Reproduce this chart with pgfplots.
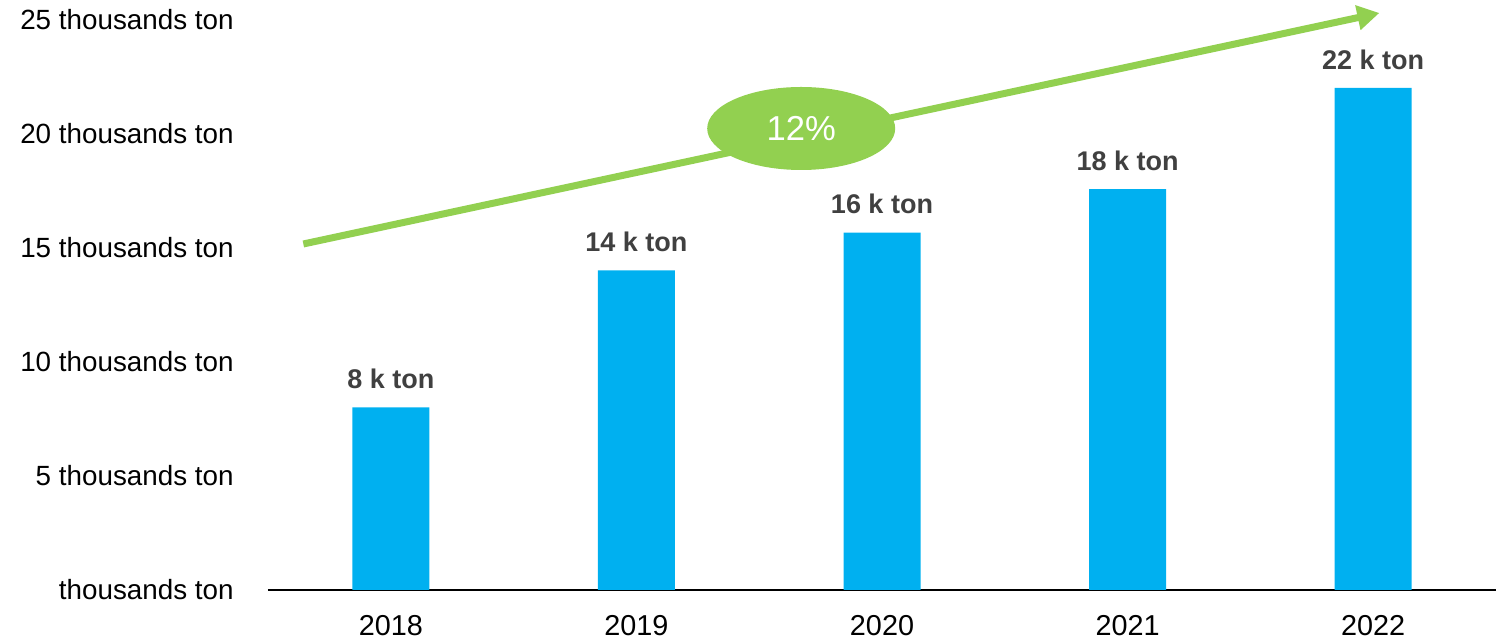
\documentclass[border=0pt]{standalone}
\usepackage{fontspec}
\setmainfont{Liberation Sans}
\usepackage{pgfplots}
\pgfplotsset{compat=1.18}
\usetikzlibrary{arrows.meta}
\definecolor{barblue}{HTML}{00B0F0}
\definecolor{arrgreen}{HTML}{92D050}
\definecolor{lblgray}{HTML}{404040}
\begin{document}
\begin{tikzpicture}
\path (-134pt,-25pt) rectangle (617pt,295pt);
\begin{axis}[
  scale only axis, width=614pt, height=295pt,
  xmin=-0.5, xmax=4.5, ymin=0, ymax=25.85,
  axis x line*=bottom, axis y line*=left,
  x axis line style={black, line width=0.9pt},
  y axis line style={draw=none},
  major tick length=0pt,
  ytick={0,5,10,15,20,25},
  yticklabels={thousands ton, 5 thousands ton, 10 thousands ton, 15 thousands ton, 20 thousands ton, 25 thousands ton},
  yticklabel style={anchor=east, inner sep=0pt, xshift=-17pt, font=\fontsize{13.9}{16}\selectfont},
  xtick={0,1,2,3,4},
  xticklabels={2018,2019,2020,2021,2022},
  xticklabel style={anchor=north, inner sep=0pt, yshift=-12.5pt, font=\fontsize{14.4}{16}\selectfont},
  ybar, bar width=38.5pt,
  nodes near coords, point meta=explicit symbolic,
  nodes near coords style={anchor=south, inner sep=0pt, yshift=9pt, text=lblgray, font=\fontsize{13.5}{16}\selectfont\bfseries},
  clip=false,
]
\addplot[fill=barblue, draw=none] coordinates {
  (0,8) [8 k ton]
  (1,14) [14 k ton]
  (2,15.66) [16 k ton]
  (3,17.56) [18 k ton]
  (4,22) [22 k ton]
};
\draw[arrgreen, line width=3.5pt, -{Triangle[length=11pt,width=12pt]}] (axis cs:-0.356,15.16) -- (axis cs:4.025,25.28);
\fill[arrgreen] (axis cs:1.671,20.22) ellipse [x radius=47pt, y radius=20.75pt];
\node[text=white, font=\fontsize{17.3}{20}\selectfont] at (axis cs:1.671,20.22) {12\%};
\end{axis}
\end{tikzpicture}
\end{document}
